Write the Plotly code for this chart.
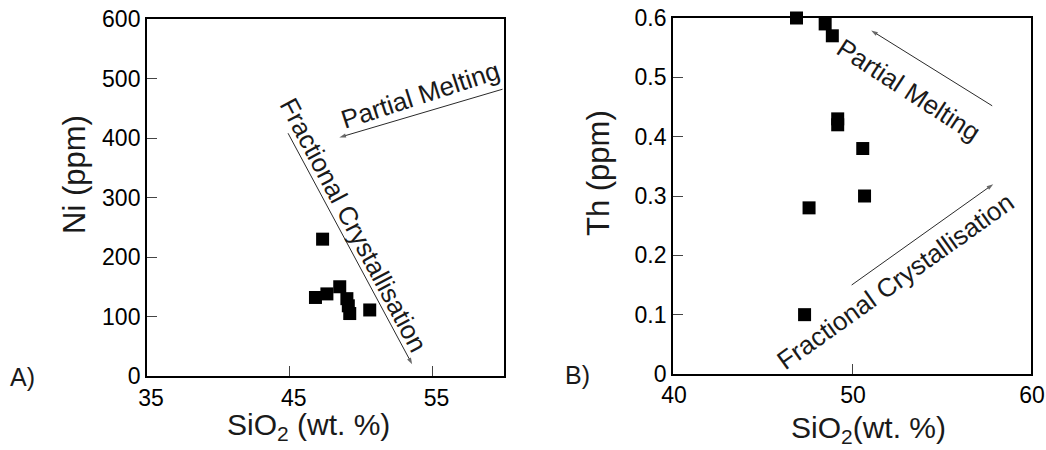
import plotly.graph_objects as go

# Panel A: Ni vs SiO2
sio2_a = [47.3, 46.8, 47.6, 48.5, 49.0, 49.1, 49.2, 50.6]
ni_a = [230, 132, 138, 150, 130, 118, 105, 111]

# Panel B: Th vs SiO2
sio2_b = [46.9, 48.5, 48.9, 49.2, 49.2, 50.6, 50.7, 47.6, 47.35]
th_b = [0.60, 0.59, 0.57, 0.43, 0.42, 0.38, 0.30, 0.28, 0.10]

# Trend arrows (tail -> head) in data units
pm_a_x, pm_a_y = [59.9, 48.47], [482, 401]
fc_a_x, fc_a_y = [44.88, 53.57], [408, 19.7]
pm_b_x, pm_b_y = [57.83, 51.07], [0.452, 0.579]
fc_b_x, fc_b_y = [49.98, 57.89], [0.150, 0.320]

FONT = "Liberation Sans, Arial, sans-serif"

fig = go.Figure()
marker = dict(symbol="square", size=13, color="black", line=dict(width=0))
fig.add_trace(go.Scatter(x=sio2_a, y=ni_a, mode="markers", marker=marker,
                         xaxis="x", yaxis="y", cliponaxis=False, showlegend=False))
fig.add_trace(go.Scatter(x=sio2_b, y=th_b, mode="markers", marker=marker,
                         xaxis="x2", yaxis="y2", cliponaxis=False, showlegend=False))

def arrow(xs, ys, xa, ya):
    fig.add_trace(go.Scatter(
        x=xs, y=ys, mode="lines+markers", xaxis=xa, yaxis=ya,
        line=dict(color="#2a2a2a", width=1),
        marker=dict(symbol=["circle", "arrow"], size=[0, 7], color="#2a2a2a",
                    angleref="previous", line=dict(width=0)),
        cliponaxis=False, showlegend=False, hoverinfo="skip"))

arrow(pm_a_x, pm_a_y, "x", "y")
arrow(fc_a_x, fc_a_y, "x", "y")
arrow(pm_b_x, pm_b_y, "x2", "y2")
arrow(fc_b_x, fc_b_y, "x2", "y2")

axis_common = dict(
    showline=True, linecolor="black", linewidth=1.8, mirror=True,
    ticks="inside", ticklen=10, tickwidth=1, tickcolor="#444",
    showgrid=False, zeroline=False, automargin=False,
    ticklabeloverflow="allow",
    tickfont=dict(family=FONT, size=23, color="black"),
)

fig.update_layout(
    width=1046, height=450,
    margin=dict(l=0, r=0, t=0, b=0, autoexpand=False),
    paper_bgcolor="white", plot_bgcolor="white",
    xaxis=dict(domain=[0.1405, 0.4818], range=[35, 60], tick0=35, dtick=10,
               anchor="y", ticklabelshift=4, **axis_common),
    yaxis=dict(domain=[0.1644, 0.9578], range=[0, 600], dtick=100,
               anchor="x", **axis_common),
    xaxis2=dict(domain=[0.6434, 0.9857], range=[40, 60], tick0=40, dtick=10,
                anchor="y2", ticklabelshift=1, **axis_common),
    yaxis2=dict(domain=[0.1689, 0.96], range=[0, 0.6],
                tickvals=[0, 0.1, 0.2, 0.3, 0.4, 0.5, 0.6],
                ticktext=["0", "0.1", "0.2", "0.3", "0.4", "0.5", "0.6"],
                anchor="x2", **axis_common),
)

W, H = 1046, 450
ann = []

def paper_text(text, px, py, size=31, angle=0):
    ann.append(dict(text=text, x=px / W, y=1 - py / H, xref="paper", yref="paper",
                    showarrow=False, textangle=angle, xanchor="center", yanchor="middle",
                    font=dict(family=FONT, size=size, color="#1a1a1a")))

paper_text("Ni (ppm)", 75, 175, angle=-90)
paper_text("SiO<sub>2</sub> (wt. %)", 308, 426, size=30)
paper_text("Th (ppm)", 599, 173, angle=-90)
paper_text("SiO<sub>2</sub>(wt. %)", 868, 429, size=30)
paper_text("A)", 22, 377, size=25)
paper_text("B)", 577, 375, size=25)

label_font = dict(family=FONT, size=26, color="#1a1a1a")

def label(xr, yr, text, x, y, angle):
    ann.append(dict(x=x, y=y, xref=xr, yref=yr, text=text, showarrow=False,
                    textangle=angle, font=label_font,
                    xanchor="center", yanchor="middle"))

label("x", "y", "Partial Melting", 54.15, 472, -18)
label("x", "y", "Fractional Crystallisation", 49.46, 254, 62)
label("x2", "y2", "Partial Melting", 53.16, 0.478, 33)
label("x2", "y2", "Fractional Crystallisation", 52.45, 0.156, -35.5)

fig.update_layout(annotations=ann)
fig.write_html("out.html")
